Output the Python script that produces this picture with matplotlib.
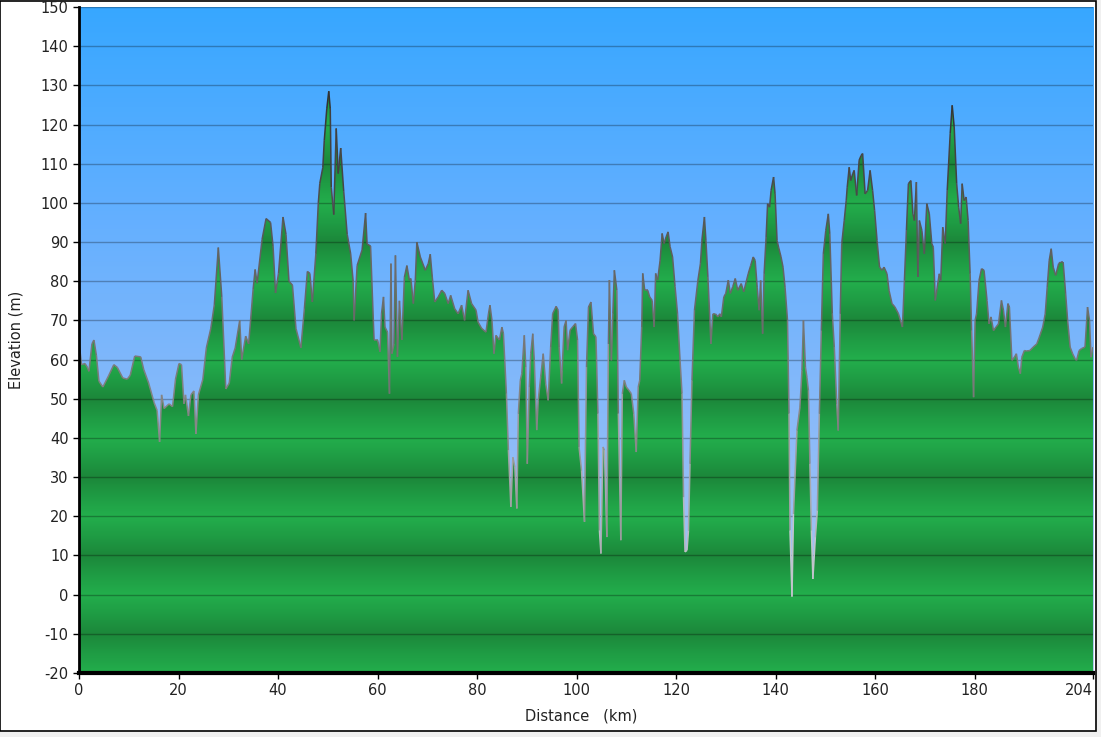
import numpy as np
import matplotlib
matplotlib.use("Agg")
import matplotlib.pyplot as plt
from matplotlib.collections import LineCollection
from matplotlib.colors import LinearSegmentedColormap
from matplotlib.patches import Rectangle

plt.rcParams['axes.unicode_minus'] = False

# Elevation profile (km, m)
distance_km = [
    0, 0.5, 1.2, 1.7, 2.0, 2.6, 3.0, 3.5, 4.0, 4.8, 6.0, 7.0, 7.7, 8.8, 9.7, 10.3,
    11.2, 12.4, 13.0, 14.0, 15.1, 15.7, 16.2, 16.6, 17.1, 18.1, 18.8, 19.4, 20.1,
    20.6, 21.1, 21.4, 22.0, 22.5, 23.1, 23.5, 24.0, 24.9, 25.6, 26.5, 27.2, 28.0,
    28.7, 29.5, 30.2, 30.8, 31.4, 32.3, 32.7, 33.5, 34.1, 35.0, 35.4, 35.8, 36.8,
    37.6, 38.5, 39.0, 39.5, 40.1, 41.0, 41.6, 42.2, 42.9, 43.6, 44.6, 45.3, 45.9,
    46.4, 46.9, 47.6, 48.1, 48.4, 49.0, 49.3, 49.8, 50.2, 50.5, 50.7, 51.2, 51.7,
    52.1, 52.6, 53.2, 53.9, 54.6, 55.1, 55.3, 55.9, 56.9, 57.6, 57.9, 58.6, 59.3,
    60.0, 60.2, 60.5, 60.8, 61.2, 61.5, 62.0, 62.4, 62.7, 62.9, 63.3, 63.6, 64.0,
    64.4, 64.9, 65.4, 65.9, 66.4, 66.7, 67.2, 67.6, 67.9, 68.6, 69.6, 70.2, 70.6,
    71.0, 71.5, 72.2, 72.9, 73.5, 74.2, 74.7, 75.5, 76.2, 76.9, 77.5, 78.2, 78.9,
    79.8, 80.2, 80.9, 81.8, 82.3, 82.6, 83.0, 83.4, 83.8, 84.5, 85.0, 85.3, 85.9,
    86.3, 86.8, 87.2, 87.6, 88.0, 88.3, 88.7, 89.0, 89.5, 89.8, 90.1, 90.5, 90.8,
    91.2, 91.5, 92.0, 92.3, 92.8, 93.3, 93.8, 94.3, 94.8, 95.2, 95.9, 96.3, 96.5,
    97.0, 97.1, 97.5, 97.9, 98.2, 98.7, 99.2, 99.8, 100.2, 100.5, 101.0, 101.6,
    102.0, 102.4, 102.9, 103.4, 103.9, 104.3, 104.6, 104.9, 105.3, 105.6, 106.1,
    106.4, 106.6, 107.0, 107.3, 107.6, 108.1, 108.4, 108.9, 109.2, 109.6, 110.0,
    110.5, 111.0, 111.5, 112.0, 112.4, 112.7, 113.1, 113.3, 113.7, 114.3, 114.7,
    115.2, 115.6, 115.9, 116.3, 116.8, 117.2, 117.6, 118.0, 118.4, 118.8, 119.3,
    119.8, 120.3, 120.8, 121.2, 121.5, 121.8, 122.2, 122.5, 122.8, 123.2, 123.7,
    124.4, 124.9, 125.2, 125.7, 126.0, 126.4, 126.8, 127.0, 127.4, 127.9, 128.4,
    128.8, 129.1, 129.6, 130.0, 130.5, 130.9, 131.4, 131.9, 132.4, 133.1, 133.6,
    134.5, 135.0, 135.5, 135.9, 136.3, 136.7, 137.0, 137.4, 137.7, 138.1, 138.4,
    138.8, 139.1, 139.6, 139.9, 140.3, 140.6, 141.1, 141.5, 141.9, 142.4, 142.7,
    142.9, 143.3, 143.6, 144.3, 144.9, 145.3, 145.6, 146.0, 146.3, 146.6, 146.9,
    147.2, 147.5, 148.0, 148.4, 148.8, 149.2, 149.6, 150.1, 150.6, 150.9, 151.4,
    151.8, 152.3, 152.6, 153.0, 153.3, 153.8, 154.2, 154.4, 154.8, 155.1, 155.5,
    155.8, 156.3, 156.8, 157.2, 157.5, 158.0, 158.5, 159.0, 159.5, 159.9, 160.4,
    160.9, 161.4, 161.8, 162.4, 162.8, 163.4, 164.0, 164.7, 165.5, 165.9, 166.3,
    166.7, 167.2, 167.6, 167.9, 168.3, 168.6, 168.9, 169.4, 169.9, 170.4, 170.9,
    171.4, 171.7, 172.1, 172.5, 172.9, 173.2, 173.6, 174.1, 174.5, 175.1, 175.5,
    175.9, 176.4, 176.8, 177.2, 177.5, 177.9, 178.3, 178.7, 179.1, 179.4, 179.8,
    180.1, 180.4, 180.9, 181.4, 181.9, 182.5, 182.9, 183.3, 183.8, 184.3, 184.8,
    185.4, 185.8, 186.2, 186.7, 187.0, 187.5, 188.0, 188.4, 188.8, 189.2, 189.5,
    190.0, 190.4, 191.1, 191.8, 192.5, 193.0, 193.7, 194.2, 194.6, 195.0, 195.4,
    195.8, 196.3, 196.9, 197.3, 197.8, 198.3, 198.7, 199.2, 199.7, 200.2, 200.5,
    201.0, 201.5, 202.2, 202.7, 203.1, 203.4, 203.8,
]
elevation_m = [
    64.7, 58.7, 59, 58, 57, 64, 65, 61, 54.5, 53, 56, 58.7, 58, 55.3, 55, 56,
    60.9, 60.7, 57.5, 54, 49, 47, 39, 51, 47.5, 48.7, 48, 55, 59,
    58.7, 48.7, 51, 45.6, 51, 52, 41, 51, 55, 63, 68, 74, 88.6,
    76, 52.5, 54, 60.6, 63, 70, 60, 66, 64, 78, 83, 79.5, 90.7,
    96, 95, 89, 77, 82, 96.4, 92, 80, 79, 68, 63, 73, 82.5,
    82, 74.7, 87, 100, 105, 109, 116, 124, 128.5, 124, 104, 97, 119,
    107.5, 114, 103, 92, 87, 80, 70, 84, 88, 97.4, 89.5, 89, 65,
    65, 64, 62, 71.7, 76, 68.3, 67, 51.3, 84.5, 61.5, 64, 86.6, 60.7,
    75, 65, 81, 84, 80.3, 80.7, 74.3, 80.3, 90, 86.2, 82.8, 84.5, 86.9,
    81.1, 74.7, 76, 77.7, 76.9, 74.3, 76.4, 73, 71.7, 73.9, 70, 77.7, 74.3,
    72.6, 69.6, 68, 67, 71.7, 73.9, 70, 61.5, 66.2, 65, 68.3, 66.6, 51.3,
    36.9, 22.4, 35.1, 32.6, 22, 46.2, 54.7, 56.4, 66.2, 58.1, 33.4, 53, 61.5,
    66.6, 59.8, 42, 49.6, 55.6, 61.5, 53.9, 49.6, 63.2, 71.7, 73.6, 72.6, 63.2,
    53.9, 57.3, 68.3, 70, 62.4, 67.5, 68.3, 69.2, 65, 37.7, 31.7, 18.6,
    58.1, 73.4, 74.7, 66.6, 65.8, 46.2, 16.4, 10.5, 37.7, 36.9, 14.7,
    64, 80.3, 59.8, 71.7, 82.8, 77.7, 46.2, 13.9, 51.3, 54.7, 53,
    52.2, 51.3, 46.2, 36.4, 53, 54.7, 68.3, 82, 77.7, 77.7, 76,
    75.1, 68.3, 82, 80.3, 85.4, 92.2, 89.6, 91.3, 92.6, 88.8, 86.2,
    78.6, 71.7, 59.8, 51.3, 24.9, 10.9, 11.3, 16.4, 33.4, 54.7, 72.6,
    80.3, 84.5, 90.5, 96.4, 90.5, 81.1, 70, 64, 71.7, 71.7, 70.9,
    71.7, 70.9, 76, 76.9, 80.3, 76.9, 78.6, 80.7, 77.7, 79.4, 77.3,
    81.9, 84, 86.2, 85.3, 78.5, 72.6, 80.2, 66.6, 81.9, 91.3, 99.8,
    98.9, 103.2, 106.6, 102.3, 90.4, 88.7, 86.2, 83.6, 78.5, 70, 46.2,
    16.4, -0.5, 20.6, 41.9, 47.9, 57.2, 70, 58.1, 55.5, 52.1, 33.4,
    16.4, 4, 14.7, 21.5, 46.2, 67.4, 87, 93, 97.2, 92.1, 71.7,
    63.2, 48.7, 41.9, 71.7, 89.6, 95.5, 100.6, 104, 109.1, 105.7, 107.4,
    108.3, 101.9, 110.9, 112.1, 112.6, 102.3, 103.2, 108.3, 103.2, 98.1, 90.4,
    83.6, 82.8, 83.6, 81.9, 77.7, 74.3, 73.4, 71.7, 68.3, 80.2, 93,
    104.9, 105.7, 97.2, 95.5, 105.3, 81.1, 95.5, 93, 87, 99.8, 97.2,
    89.6, 88.7, 75.1, 78.5, 81.9, 80.2, 93.8, 89.6, 103.2, 117.7, 124.9,
    119.4, 104.9, 98.9, 94.7, 104.9, 100.6, 101.5, 95.5, 81.9, 67.4, 50.4,
    70, 71.7, 80.2, 83.2, 82.8, 75.1, 69.1, 70.9, 67.4, 68.3, 69.1,
    75.1, 72.6, 68.3, 74.3, 73.4, 59.8, 60.6, 61.5, 58.1, 56.4, 60.6,
    62.3, 62.2, 62.3, 63.2, 64, 65.7, 68.3, 71.7, 78.5, 85.3, 88.3,
    83.6, 81.5, 84.5, 84.9, 84.9, 76.8, 70, 63.2, 61.5, 60.2, 59.8,
    62.3, 62.8, 63.2, 73.4, 70, 60.6, 63.2,
]

x_ticks = [0, 20, 40, 60, 80, 100, 120, 140, 160, 180]
x_end = 203.8
x_end_label = "204"
y_ticks = list(range(-20, 151, 10))
y_min, y_max = -20, 150

km = np.array(distance_km)
elev = np.array(elevation_m)

W, H = 1101, 737
fig = plt.figure(figsize=(W / 100, H / 100), dpi=100, facecolor="#f0f0f0")

# white panel with black frame
fig.patches.append(Rectangle((0, 6 / H), 1096 / W, 1 - 6.5 / H, transform=fig.transFigure,
                             facecolor="white", edgecolor="black", linewidth=1.2, zorder=-1))

ax = fig.add_axes([79 / W, (H - 673) / H, (1093 - 79) / W, (673 - 7) / H])
ax.set_xlim(0, x_end)
ax.set_ylim(y_min, y_max)

# sky gradient
sky = LinearSegmentedColormap.from_list("sky", ["#b4c8ee", "#8fbcf8", "#66b0ff", "#37a7ff"])
grad = np.linspace(0, 1, 256).reshape(-1, 1)
ax.imshow(grad, cmap=sky, origin="lower", aspect="auto",
          extent=(0, x_end, y_min, y_max), zorder=0, interpolation="bilinear")

# green banded fill, clipped to the profile
yy = np.linspace(y_min, y_max, 1200)
band = np.abs(((yy - 10) % 20) - 10) / 10.0   # 0 at odd tens, 1 at multiples of 20
green = LinearSegmentedColormap.from_list("green", ["#23ae4c", "#1f9c44", "#1c873a"])
im = ax.imshow(band.reshape(-1, 1), cmap=green, origin="lower", aspect="auto",
               extent=(0, x_end, y_min, y_max), zorder=1, interpolation="bilinear")
poly = ax.fill_between(km, elev, y_min, facecolor="none", edgecolor="none", zorder=1)
im.set_clip_path(poly.get_paths()[0], transform=ax.transData)

# profile outline, darker when higher
pts = np.column_stack([km, elev]).reshape(-1, 1, 2)
segs = np.concatenate([pts[:-1], pts[1:]], axis=1)
line_cmap = LinearSegmentedColormap.from_list("edge", ["#d0d4dc", "#8a8a8a", "#5f5f5f", "#2e2e2e"])
lc = LineCollection(segs, cmap=line_cmap, norm=plt.Normalize(0, 130), linewidth=1.1, zorder=3)
lc.set_array((elev[:-1] + elev[1:]) / 2)
ax.add_collection(lc)

# grid lines
for yv in y_ticks:
    ax.axhline(yv, color="black", alpha=0.28, linewidth=1, zorder=2)

ax.set_xticks(x_ticks + [x_end])
ax.set_xticklabels([str(v) for v in x_ticks] + [x_end_label])
ax.get_xticklabels()[-1].set_ha("right")
ax.set_yticks(y_ticks)
ax.tick_params(axis="both", direction="out", length=4, width=1, colors="black",
               labelcolor="#222222", labelsize=10.5)
ax.tick_params(axis="x", pad=3)

for side in ["top", "right"]:
    ax.spines[side].set_visible(False)
ax.spines["left"].set_linewidth(2)
ax.spines["bottom"].set_linewidth(3)
ax.spines["left"].set_zorder(5)
ax.spines["bottom"].set_zorder(5)

fig.text(581 / W, 1 - 716 / H, "Distance   (km)", ha="center", va="center",
         fontsize=10.5, color="#222222")
fig.text(16 / W, 1 - 340 / H, "Elevation (m)", ha="center", va="center",
         rotation=90, fontsize=10.5, color="#222222")

fig.savefig("out.png", dpi=100, facecolor=fig.get_facecolor())
